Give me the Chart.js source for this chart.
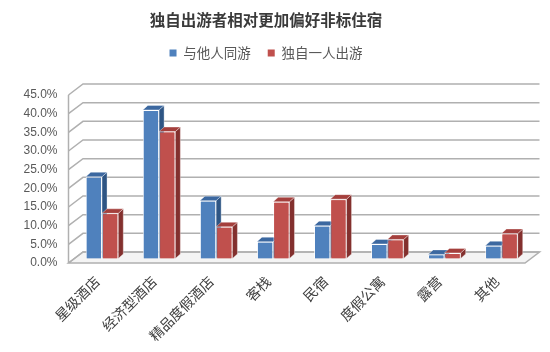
<!DOCTYPE html>
<html><head><meta charset="utf-8">
<script src="https://cdn.jsdelivr.net/npm/chart.js@4.4.0/dist/chart.umd.min.js"></script>
<style>html,body{margin:0;padding:0;background:#fff}#wrap{width:550px;height:352px}</style>
</head><body><div id="wrap"><canvas id="c" width="550" height="352"></canvas></div>
<script>
const titleText = '独自出游者相对更加偏好非标住宿';
const categories = ['星级酒店','经济型酒店','精品度假酒店','客栈','民宿','度假公寓','露营','其他'];
const seriesNames = ['与他人同游','独自一人出游'];
const withOthers = [21.9, 39.8, 15.5, 4.5, 8.8, 3.9, 1.1, 3.4];
const solo = [12.1, 34.0, 8.5, 15.2, 15.9, 5.1, 1.5, 6.7];
const yMin = 0, yMax = 45, yStep = 5;

const WALL = {dx: 14.5, dy: -11};
const SHIFT = {dx: 5, dy: -4.5};
const BDEPTH = {dx: 5, dy: -4.5};
const faces = [{top: '#3C68A0', side: '#2E5584'}, {top: '#A43F3C', side: '#83302E'}];

const box3d = {
  id: 'box3d',
  beforeDatasetsDraw(chart) {
    const {ctx, chartArea: a, scales: {y}} = chart;
    ctx.save();
    ctx.beginPath();
    ctx.moveTo(a.left, a.bottom);
    ctx.lineTo(a.right, a.bottom);
    ctx.lineTo(a.right + WALL.dx, a.bottom + WALL.dy);
    ctx.lineTo(a.left + WALL.dx, a.bottom + WALL.dy);
    ctx.closePath();
    ctx.fillStyle = '#f4f4f4';
    ctx.fill();
    ctx.strokeStyle = '#b0b0b0';
    ctx.lineWidth = 1.5;
    ctx.stroke();
    y.ticks.forEach(t => {
      const yy = y.getPixelForValue(t.value);
      ctx.beginPath();
      ctx.moveTo(a.left, yy);
      ctx.lineTo(a.left + WALL.dx, yy + WALL.dy);
      ctx.lineTo(a.right + WALL.dx, yy + WALL.dy);
      ctx.stroke();
    });
    ctx.beginPath();
    ctx.moveTo(a.left, a.top);
    ctx.lineTo(a.left, a.bottom);
    ctx.stroke();
    ctx.restore();
    ctx.save();
    ctx.translate(SHIFT.dx, SHIFT.dy);
  },
  afterDatasetsDraw(chart) {
    const ctx = chart.ctx;
    const metas = chart.data.datasets.map((d, i) => chart.getDatasetMeta(i));
    for (let j = 0; j < categories.length; j++) {
      metas.forEach((m, i) => {
        const bar = m.data[j];
        if (!bar) return;
        const {x, y, base, width} = bar.getProps(['x', 'y', 'base', 'width'], true);
        const l = x - width / 2, r = x + width / 2;
        ctx.lineWidth = 1;
        ctx.strokeStyle = 'rgba(255,255,255,0.35)';
        ctx.beginPath();
        ctx.moveTo(r, y); ctx.lineTo(r + BDEPTH.dx, y + BDEPTH.dy);
        ctx.lineTo(r + BDEPTH.dx, base + BDEPTH.dy); ctx.lineTo(r, base); ctx.closePath();
        ctx.fillStyle = faces[i].side; ctx.fill(); ctx.stroke();
        ctx.beginPath();
        ctx.moveTo(l, y); ctx.lineTo(l + BDEPTH.dx, y + BDEPTH.dy);
        ctx.lineTo(r + BDEPTH.dx, y + BDEPTH.dy); ctx.lineTo(r, y); ctx.closePath();
        ctx.fillStyle = faces[i].top; ctx.fill(); ctx.stroke();
        bar.draw(ctx);
      });
    }
    ctx.restore();
  }
};

new Chart(document.getElementById('c'), {
  type: 'bar',
  data: {
    labels: categories,
    datasets: [
      {label: seriesNames[0], data: withOthers, backgroundColor: '#4F81BD', borderColor: 'rgba(255,255,255,0.5)', borderWidth: 1},
      {label: seriesNames[1], data: solo, backgroundColor: '#C0504D', borderColor: 'rgba(255,255,255,0.5)', borderWidth: 1}
    ]
  },
  options: {
    responsive: false,
    animation: false,
    devicePixelRatio: 1,
    categoryPercentage: 0.57,
    barPercentage: 1.0,
    layout: {padding: {left: 0, right: 18, top: 0, bottom: 0}},
    plugins: {
      title: {display: true, text: titleText, color: '#3a3a3a',
        font: {family: 'Noto Sans CJK SC', size: 15.5, weight: 'bold'}, padding: {top: 10.7, bottom: 0}},
      legend: {display: true, position: 'top', fullSize: true,
        labels: {boxWidth: 7, boxHeight: 7, padding: 16.95, color: '#595959',
          font: {family: 'Noto Sans CJK SC', size: 13.5},
          generateLabels: (ch) => Chart.defaults.plugins.legend.labels.generateLabels(ch).map(it => Object.assign(it, {lineWidth: 0, strokeStyle: 'rgba(0,0,0,0)'}))}},
      subtitle: {display: true, text: '', weight: 500, font: {size: 10}, padding: {top: 13.25, bottom: 0}},
      tooltip: {enabled: false}
    },
    scales: {
      x: {
        grid: {display: false, drawTicks: false}, border: {display: false},
        ticks: {autoSkip: false, maxRotation: 45, minRotation: 45, padding: 10, color: '#404040',
          font: {family: 'Noto Sans CJK SC', size: 14}},
        afterFit(s) { s.height = 89; s.paddingRight = 25; }
      },
      y: {
        min: yMin, max: yMax,
        grid: {display: false, drawTicks: false}, border: {display: false},
        ticks: {stepSize: yStep, padding: 11, color: '#595959',
          font: {family: 'Liberation Sans', size: 12},
          callback: v => Number(v).toFixed(1) + '%'},
        afterFit(s) { s.width = 68.5; }
      }
    }
  },
  plugins: [box3d]
});
</script></body></html>
